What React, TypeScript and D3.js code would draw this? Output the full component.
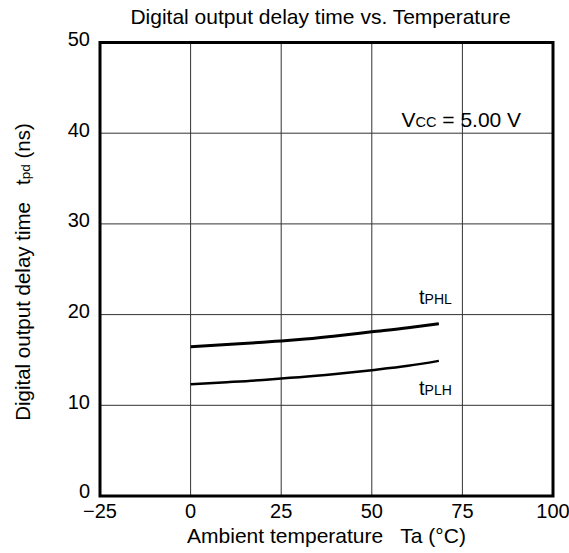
import React from "react";
import * as d3 from "d3";

const W = 569;
const H = 553;

const xTicks = [-25, 0, 25, 50, 75, 100];
const yTicks = [0, 10, 20, 30, 40, 50];

const tempPHL = [0, 10, 20, 25, 30, 40, 50, 60, 68.5];
const valPHL = [16.45, 16.7, 16.95, 17.1, 17.25, 17.65, 18.1, 18.55, 19.0];

const tempPLH = [0, 10, 20, 25, 30, 40, 50, 60, 68.5];
const valPLH = [12.33, 12.55, 12.8, 12.96, 13.1, 13.45, 13.87, 14.35, 14.9];

const FONT = "'Liberation Sans', Arial, Helvetica, sans-serif";

export default function App() {
  const left = 100, right = 553, top = 42.5, bottom = 496;
  const x = d3.scaleLinear().domain([-25, 100]).range([left, right]);
  const y = d3.scaleLinear().domain([0, 50]).range([bottom, top]);

  const line = d3
    .line<[number, number]>()
    .x((d) => x(d[0]))
    .y((d) => y(d[1]))
    .curve(d3.curveMonotoneX);

  const phl = line(tempPHL.map((t, i) => [t, valPHL[i]] as [number, number])) || "";
  const plh = line(tempPLH.map((t, i) => [t, valPLH[i]] as [number, number])) || "";

  const fs = 20;

  return (
    <svg width={W} height={H} style={{ position: "absolute", left: 0, top: 0, background: "#fff" }} fontFamily={FONT}>
      <rect x={0} y={0} width={W} height={H} fill="#fff" />
      <text x={320.5} y={24} fontSize={21} textAnchor="middle" fill="#000">
        Digital output delay time vs. Temperature
      </text>
      {/* grid */}
      {xTicks.slice(1, -1).map((t) => (
        <line key={"gx" + t} x1={x(t)} x2={x(t)} y1={top} y2={bottom} stroke="#333" strokeWidth={1} />
      ))}
      {yTicks.slice(1, -1).map((t) => (
        <line key={"gy" + t} x1={left} x2={right} y1={y(t)} y2={y(t)} stroke="#333" strokeWidth={1} />
      ))}
      {/* curves */}
      <path d={phl} fill="none" stroke="#000" strokeWidth={3} />
      <path d={plh} fill="none" stroke="#000" strokeWidth={2.5} />
      {/* frame */}
      <rect x={left} y={top} width={right - left} height={bottom - top} fill="none" stroke="#000" strokeWidth={3} />
      {/* y tick labels */}
      {yTicks.map((t) => (
        <text key={"yl" + t} x={90} y={y(t) + (t === 0 ? 2 : 3.5)} fontSize={fs} textAnchor="end" fill="#000">
          {t}
        </text>
      ))}
      {/* x tick labels */}
      {xTicks.map((t) => (
        <text key={"xl" + t} x={x(t)} y={517.5} fontSize={fs} textAnchor="middle" fill="#000">
          {t < 0 ? "\u2212" + Math.abs(t) : String(t)}
        </text>
      ))}
      {/* axis titles */}
      <text x={326.5} y={543} fontSize={21} textAnchor="middle" fill="#000" xmlSpace="preserve">
        {"Ambient temperature   Ta (\u00B0C)"}
      </text>
      <text transform="translate(29.5,272) rotate(-90)" fontSize={20.5} textAnchor="middle" fill="#000" xmlSpace="preserve">
        {"Digital output delay time   t"}
        <tspan fontSize={13.5}>pd</tspan>
        {" (ns)"}
      </text>
      {/* annotations */}
      <text x={401.5} y={126.5} fontSize={21} fill="#000" xmlSpace="preserve">
        V<tspan fontSize={14.5}>CC</tspan>
        {" = 5.00 V"}
      </text>
      <text x={419} y={304} fontSize={fs} fill="#000">
        t<tspan fontSize={14}>PHL</tspan>
      </text>
      <text x={419} y={395} fontSize={fs} fill="#000">
        t<tspan fontSize={14}>PLH</tspan>
      </text>
    </svg>
  );
}
